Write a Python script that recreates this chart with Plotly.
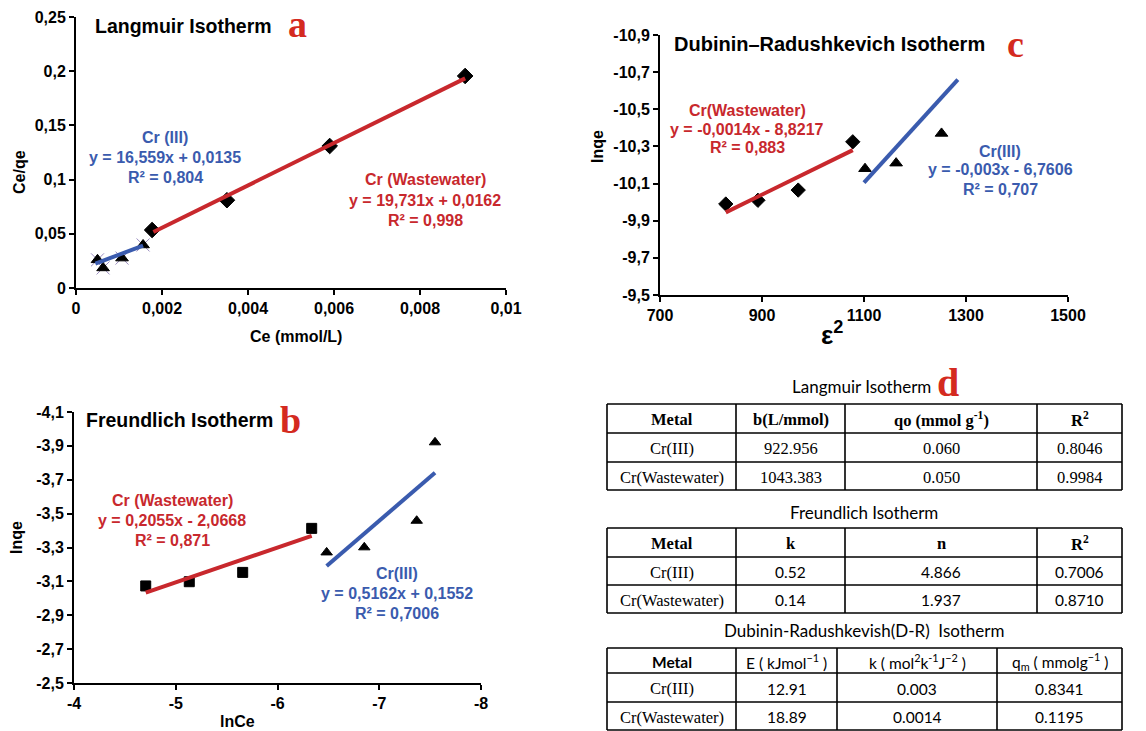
import plotly.graph_objects as go

W, H = 1146, 731

# ---------------- Panel a : Langmuir ----------------
a_ww_ce = [0.00177, 0.00351, 0.0059, 0.00905]
a_ww_ceqe = [0.0535, 0.081, 0.131, 0.1956]
a_cr3_ce = [0.0005, 0.00063, 0.00107, 0.00156]
a_cr3_ceqe = [0.026, 0.0185, 0.0276, 0.0397]
a_ww_fit_x = [0.0018, 0.00905]
a_ww_fit_y = [0.0517, 0.1934]
a_cr3_fit_x = [0.00045, 0.00156]
a_cr3_fit_y = [0.0224, 0.0392]
a_xticks = [0, 0.002, 0.004, 0.006, 0.008, 0.01]
a_xtick_text = ["0", "0,002", "0,004", "0,006", "0,008", "0,01"]
a_yticks = [0, 0.05, 0.1, 0.15, 0.2, 0.25]
a_ytick_text = ["0", "0,05", "0,1", "0,15", "0,2", "0,25"]

# ---------------- Panel b : Freundlich ----------------
b_ww_lnce = [-4.705, -5.133, -5.658, -6.336]
b_ww_lnqe = [-3.073, -3.098, -3.153, -3.413]
b_cr3_lnce = [-6.483, -6.853, -7.368, -7.548]
b_cr3_lnqe = [-3.271, -3.301, -3.458, -3.921]
b_ww_fit_x = [-4.705, -6.336]
b_ww_fit_y = [-3.033, -3.369]
b_cr3_fit_x = [-6.483, -7.548]
b_cr3_fit_y = [-3.191, -3.741]
b_xticks = [-4, -5, -6, -7, -8]
b_xtick_text = ["-4", "-5", "-6", "-7", "-8"]
b_yticks = [-2.5, -2.7, -2.9, -3.1, -3.3, -3.5, -3.7, -3.9, -4.1]
b_ytick_text = ["-2,5", "-2,7", "-2,9", "-3,1", "-3,3", "-3,5", "-3,7", "-3,9", "-4,1"]

# ---------------- Panel c : Dubinin-Radushkevich ----------------
c_ww_eps2 = [829, 892, 971, 1078]
c_ww_lnqe = [-9.99, -10.01, -10.065, -10.325]
c_cr3_eps2 = [1102, 1163, 1252]
c_cr3_lnqe = [-10.18, -10.21, -10.37]
c_ww_fit_x = [829, 1078]
c_ww_fit_y = [-9.945, -10.28]
c_cr3_fit_x = [1100, 1284]
c_cr3_fit_y = [-10.105, -10.66]
c_xticks = [700, 900, 1100, 1300, 1500]
c_xtick_text = ["700", "900", "1100", "1300", "1500"]
c_yticks = [-9.5, -9.7, -9.9, -10.1, -10.3, -10.5, -10.7, -10.9]
c_ytick_text = ["-9,5", "-9,7", "-9,9", "-10,1", "-10,3", "-10,5", "-10,7", "-10,9"]

# ---------------- Panel d : tables ----------------
t1_header = ["Metal", "b(L/mmol)", "qo (mmol g<sup>-1</sup>)", "R<sup>2</sup>"]
t1_metal = ["Cr(III)", "Cr(Wastewater)"]
t1_b = ["922.956", "1043.383"]
t1_qo = ["0.060", "0.050"]
t1_r2 = ["0.8046", "0.9984"]

t2_header = ["Metal", "k", "n", "R<sup>2</sup>"]
t2_metal = ["Cr(III)", "Cr(Wastewater)"]
t2_k = ["0.52", "0.14"]
t2_n = ["4.866", "1.937"]
t2_r2 = ["0.7006", "0.8710"]

t3_header = ["Metal", "E ( kJmol<sup>\u22121</sup> )",
             "k ( mol<sup>2</sup>k<sup>-1</sup>J<sup>\u22122</sup> )",
             "q<sub>m</sub> ( mmolg<sup>\u22121</sup> )"]
t3_metal = ["Cr(III)", "Cr(Wastewater)"]
t3_E = ["12.91", "18.89"]
t3_k = ["0.003", "0.0014"]
t3_qm = ["0.8341", "0.1195"]

RED = "#C8282D"
BLUE = "#3A5BAE"
LBL_RED = "#D42A20"
SANS = "Liberation Sans"
SERIF = "Liberation Serif"
CAL = "Lato"


def px(x):
    return x / W


def py(y):
    return 1 - y / H


fig = go.Figure()


def scatter(x, y, xa, ya, symbol, size=10, color="black"):
    fig.add_trace(go.Scatter(x=x, y=y, mode="markers", xaxis=xa, yaxis=ya,
                             marker=dict(symbol=symbol, size=size, color=color,
                                         line=dict(width=1, color=color)),
                             showlegend=False, hoverinfo="skip"))


def fit(x, y, xa, ya, color):
    fig.add_trace(go.Scatter(x=x, y=y, mode="lines", xaxis=xa, yaxis=ya,
                             line=dict(color=color, width=4),
                             showlegend=False, hoverinfo="skip"))


# panel a
scatter(a_cr3_ce, a_cr3_ceqe, "x", "y", "x-thin-open", 13, "#9a8cc0")
scatter(a_cr3_ce, a_cr3_ceqe, "x", "y", "triangle-up", 11)
scatter(a_ww_ce, a_ww_ceqe, "x", "y", "diamond", 12)
fit(a_cr3_fit_x, a_cr3_fit_y, "x", "y", BLUE)
fit(a_ww_fit_x, a_ww_fit_y, "x", "y", RED)

# panel b
scatter(b_ww_lnce, b_ww_lnqe, "x2", "y2", "square", 10)
scatter(b_cr3_lnce, b_cr3_lnqe, "x2", "y2", "triangle-up", 10)
fit(b_ww_fit_x, b_ww_fit_y, "x2", "y2", RED)
fit(b_cr3_fit_x, b_cr3_fit_y, "x2", "y2", BLUE)

# panel c
scatter(c_ww_eps2, c_ww_lnqe, "x3", "y3", "diamond", 11)
scatter(c_cr3_eps2, c_cr3_lnqe, "x3", "y3", "triangle-up", 11)
fit(c_ww_fit_x, c_ww_fit_y, "x3", "y3", RED)
fit(c_cr3_fit_x, c_cr3_fit_y, "x3", "y3", BLUE)

tickfont = dict(family=SANS, size=16, color="black", weight="bold")


def axis(domain, rng, tv, tt, anchor):
    return dict(domain=domain, range=rng, tickvals=tv, ticktext=tt, anchor=anchor,
                showline=True, linecolor="black", linewidth=2, showgrid=False,
                zeroline=False, ticks="outside", ticklen=5, tickwidth=2,
                tickcolor="black", tickfont=tickfont, automargin=False)


fig.update_layout(
    template="none",
    width=W, height=H, margin=dict(l=0, r=0, t=0, b=0, pad=0),
    paper_bgcolor="white", plot_bgcolor="white",
    xaxis=axis([px(76), px(506)], [0, 0.01], a_xticks, a_xtick_text, "y"),
    yaxis=axis([py(288), py(17)], [0, 0.25], a_yticks, a_ytick_text, "x"),
    xaxis2=axis([px(74), px(481)], [-4, -8], b_xticks, b_xtick_text, "y2"),
    yaxis2=axis([py(683), py(412)], [-2.5, -4.1], b_yticks, b_ytick_text, "x2"),
    xaxis3=axis([px(660), px(1068)], [700, 1500], c_xticks, c_xtick_text, "y3"),
    yaxis3=axis([py(295), py(35)], [-9.5, -10.9], c_yticks, c_ytick_text, "x3"),
)

anns = []
shapes = []


def ann(text, x, y, size=14, color="black", family=SANS, bold=True, angle=0, xanchor="center"):
    anns.append(dict(text=text, x=px(x), y=py(y), xref="paper", yref="paper",
                     showarrow=False, xanchor=xanchor, yanchor="middle", textangle=angle,
                     font=dict(family=family, size=size, color=color,
                               weight="bold" if bold else "normal")))


def block(lines, x, y0, dy, color, size=16):
    for i, ln in enumerate(lines):
        ann(ln, x, y0 + i * dy, size=size, color=color)


# panel a text
ann("Langmuir Isotherm", 93, 26, size=19.5, xanchor="left")
ann("a", 297, 24, size=38, color=LBL_RED, family=SERIF)
ann("Ce/qe", 19, 172, size=16, angle=-90)
ann("Ce (mmol/L)", 296, 336, size=16)
block(["Cr (III)", "y = 16,559x + 0,0135", "R\u00b2 = 0,804"], 165, 137, 20, BLUE)
block(["Cr (Wastewater)", "y = 19,731x + 0,0162", "R\u00b2 = 0,998"], 425, 180, 20, RED)

# panel b text
ann("Freundlich Isotherm", 84, 420, size=19.5, xanchor="left")
ann("b", 290, 420, size=38, color=LBL_RED, family=SERIF)
ann("lnqe", 16, 538, size=16, angle=-90)
ann("lnCe", 237, 721, size=16)
block(["Cr (Wastewater)", "y = 0,2055x - 2,0668", "R\u00b2 = 0,871"], 172, 500, 20, RED)
block(["Cr(III)", "y = 0,5162x + 0,1552", "R\u00b2 = 0,7006"], 397, 573, 20, BLUE)

# panel c text
ann("Dubinin\u2013Radushkevich Isotherm", 672, 44, size=20, xanchor="left")
ann("c", 1015, 44, size=38, color=LBL_RED, family=SERIF)
ann("lnqe", 597, 147, size=16, angle=-90)
ann("\u03b5<sup>2</sup>", 832, 333, size=26)
block(["Cr(Wastewater)", "y = -0,0014x - 8,8217", "R\u00b2 = 0,883"], 747, 110, 19, RED)
block(["Cr(III)", "y = -0,003x - 6,7606", "R\u00b2 = 0,707"], 1000, 151, 19, BLUE)

# panel d titles
ann("Langmuir Isotherm", 933, 386, size=17, family=CAL, bold=False, xanchor="right")
ann("d", 935, 382, size=40, color=LBL_RED, family=SERIF, xanchor="left")
ann("Freundlich Isotherm", 864, 512, size=17, family=CAL, bold=False)
ann("Dubinin-Radushkevish(D-R)  Isotherm", 864, 630, size=17, family=CAL, bold=False)


def hline(x0, x1, y, w=1.6):
    shapes.append(dict(type="line", xref="paper", yref="paper", x0=px(x0), x1=px(x1),
                       y0=py(y), y1=py(y), line=dict(color="black", width=w)))


def vline(x, y0, y1, w=1.6):
    shapes.append(dict(type="line", xref="paper", yref="paper", x0=px(x), x1=px(x),
                       y0=py(y0), y1=py(y1), line=dict(color="black", width=w)))


def draw_table(header, cols, xb, yb, hfonts, cfonts):
    for y in yb:
        hline(xb[0], xb[-1], y)
    for x in xb:
        vline(x, yb[0], yb[-1])
    for j, htxt in enumerate(header):
        fam, size, bold = hfonts[j]
        ann(htxt, (xb[j] + xb[j + 1]) / 2, (yb[0] + yb[1]) / 2 + 1, size=size,
            family=fam, bold=bold)
    for j, col in enumerate(cols):
        fam, size = cfonts[j]
        for i, val in enumerate(col):
            ann(val, (xb[j] + xb[j + 1]) / 2, (yb[i + 1] + yb[i + 2]) / 2 + 1, size=size,
                family=fam, bold=False)


TB = [607, 736, 845, 1037, 1122]
draw_table(t1_header, [t1_metal, t1_b, t1_qo, t1_r2], TB, [404, 433, 462, 490],
           [(SERIF, 16.5, True)] * 4, [(SERIF, 16.5)] * 4)
draw_table(t2_header, [t2_metal, t2_k, t2_n, t2_r2], TB, [528, 557, 585, 613],
           [(SERIF, 16.5, True)] * 4, [(SERIF, 16.5)] + [(CAL, 15.5)] * 3)
draw_table(t3_header, [t3_metal, t3_E, t3_k, t3_qm], [607, 736, 837, 997, 1122],
           [648, 673, 702, 730],
           [(CAL, 15.5, True)] + [(CAL, 15.5, False)] * 3,
           [(SERIF, 16.5)] + [(CAL, 15.5)] * 3)

fig.update_layout(annotations=anns, shapes=shapes)

fig.write_html("out.html", config={"displayModeBar": False},
               post_script="document.body.style.margin='0';document.body.style.overflow='hidden';")
